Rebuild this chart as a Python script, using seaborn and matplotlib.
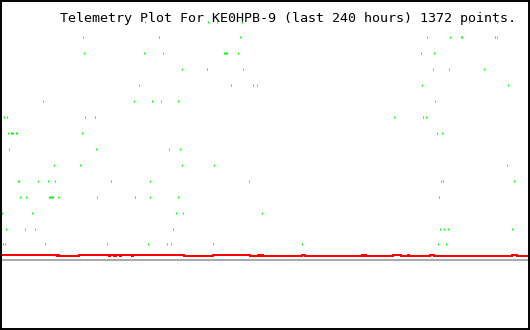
import matplotlib
matplotlib.use("Agg")
import matplotlib.pyplot as plt
import seaborn as sns
import pandas as pd

# ---- data (hours over the last 240 h) ----
title = "Telemetry Plot For KE0HPB-9 (last 240 hours) 1372 points."

level_15 = [65.2, 94.2, 98.3, 109.6, 212.4, 225.1]
level_14 = [37.1, 72.0, 108.7, 193.4, 203.8, 208.8, 209.2, 224.6, 225.1]
level_13 = [37.6, 64.8, 73.4, 101.4, 101.9, 102.3, 102.8, 107.8, 190.6, 196.5]
level_12 = [82.0, 93.7, 110.0, 196.1, 203.3, 219.6]
level_11 = [62.5, 104.6, 114.6, 116.4, 191.1, 230.5]
level_10 = [19.0, 60.2, 68.4, 72.5, 80.6, 197.0]
level_9 = [1.4, 2.7, 38.0, 42.6, 178.4, 191.5, 192.9]
level_8 = [3.2, 4.5, 5.0, 5.4, 6.8, 7.2, 36.7, 197.9, 200.2]
level_7 = [3.6, 43.0, 76.1, 81.1]
level_6 = [24.0, 35.8, 82.4, 96.9, 230.0]
level_5 = [7.7, 8.2, 16.8, 21.3, 24.5, 49.8, 67.9, 112.8, 199.7, 200.6, 233.2]
level_4 = [8.6, 11.3, 21.7, 22.2, 22.6, 23.1, 23.5, 25.8, 43.5, 60.7, 67.5, 80.2, 198.8]
level_3 = [0.5, 14.0, 79.7, 82.9, 118.6]
level_2 = [2.3, 10.9, 15.4, 78.3, 199.2, 201.1, 202.9, 232.3]
level_1 = [0.9, 1.8, 19.9, 48.0, 67.0, 75.6, 77.4, 96.5, 136.8, 198.3, 202.0]

red_hours = [0.0, 25.4, 25.8, 26.3, 35.3, 48.9, 49.4, 51.2, 52.1, 53.9, 54.3,
             59.3, 59.8, 83.3, 96.5, 113.2, 116.8, 117.3, 117.7, 118.2, 118.6,
             119.1, 136.8, 138.1, 163.9, 164.4, 164.8, 165.7, 177.9, 181.6,
             184.8, 185.2, 194.7, 196.5, 232.3, 234.5, 240.0]
red_values = [0.355, 0.29, 0.355, 0.29, 0.355, 0.29, 0.355, 0.29, 0.355, 0.29, 0.355,
              0.29, 0.355, 0.29, 0.355, 0.29, 0.355, 0.29, 0.355, 0.29, 0.355,
              0.29, 0.355, 0.29, 0.355, 0.29, 0.355, 0.29, 0.355, 0.29,
              0.355, 0.29, 0.355, 0.29, 0.355, 0.29, 0.29]
baseline_value = 0.0

levels = {15: level_15, 14: level_14, 13: level_13, 12: level_12, 11: level_11,
          10: level_10, 9: level_9, 8: level_8, 7: level_7, 6: level_6,
          5: level_5, 4: level_4, 3: level_3, 2: level_2, 1: level_1}
rows = [(h, lv) for lv, hs in levels.items() for h in hs]
green_df = pd.DataFrame(rows, columns=["hour", "level"])
red_df = pd.DataFrame({"hour": red_hours, "value": red_values})

# ---- drawing ----
sns.set_theme(style="white")
plt.rcParams["font.family"] = ["DejaVu Sans Mono", "DejaVu Sans"]

fig = plt.figure(figsize=(5.3, 3.3), dpi=100)
ax = fig.add_axes([0.001, 0.002, 0.997, 0.995])
ax.set_facecolor("white")

ax.text(60 / 530, 1 - 21.7 / 330, title, transform=fig.transFigure,
        ha="left", va="baseline", fontsize=9.6, color="black",
        family=["DejaVu Sans Mono"])

ax.axhline(baseline_value, color="#aaaaaa", lw=1.44, zorder=1, antialiased=False)
sns.lineplot(data=red_df, x="hour", y="value", ax=ax, color="#ff0000",
             lw=1.44, drawstyle="steps-post", zorder=2, legend=False,
             antialiased=False)
sns.scatterplot(data=green_df, x="hour", y="level", ax=ax, marker="|",
                s=2.4, linewidth=0.75, color="#00ff00", edgecolor="#00ff00",
                zorder=3, legend=False, antialiased=False)

ax.set_xlim(-0.2, 239.8)
ax.set_ylim(-4.33, 16.29)
ax.set_xticks([])
ax.set_yticks([])
ax.set_xlabel("")
ax.set_ylabel("")
for sp in ax.spines.values():
    sp.set_visible(True)
    sp.set_color("black")
    sp.set_linewidth(1.4)

fig.savefig("out.png", dpi=100, facecolor="white")
